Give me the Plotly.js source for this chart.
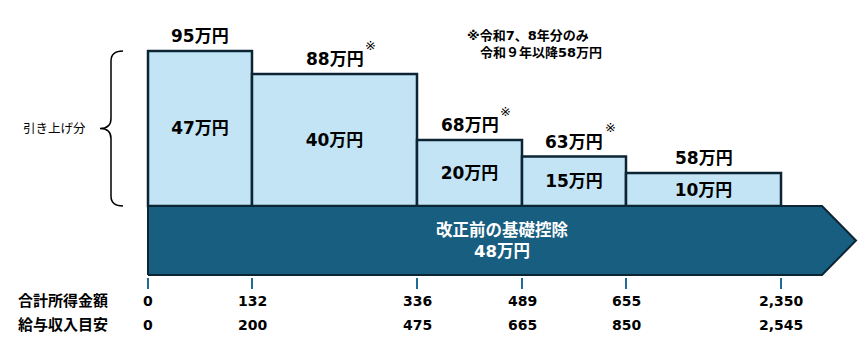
<!DOCTYPE html>
<html>
<head>
<meta charset="utf-8">
<script src="https://cdn.plot.ly/plotly-3.0.1.min.js"></script>
<style>html,body{margin:0;padding:0;background:#fff;}#chart{width:862px;height:356px;}</style>
</head>
<body>
<div id="chart"></div>
<script>
// ---- data ----
const incomeTicks = ['0', '132', '336', '489', '655', '2,350'];
const salaryTicks = ['0', '200', '475', '665', '850', '2,545'];
const increase = [47, 40, 20, 15, 10];
const baseDeduction = 48;
const noteFlags = [false, true, true, true, false];
const rowLabels = ['合計所得金額', '給与収入目安'];
const braceLabel = '引き上げ分';
const baseLabel = '改正前の基礎控除';
const noteLines = ['※令和7、8年分のみ', '　令和９年以降58万円'];
const unit = '万円';

// ---- layout constants ----
const BAND_PX = [104, 165, 105, 104, 155];
const ARROW_EXTRA = 41, ARROW_HEAD = 34;
const W = 862, H = 356, LEFT = 148;
const PLOT_BOTTOM = 277;          // pixel of plot-area bottom
const BASE_TOP = 206, BASE_BOT = 275;
const BAR_PX_PER_UNIT = 3.3;
const FONT = '"DejaVu Sans", "Noto Sans CJK JP", sans-serif';
const LIGHT = '#c2e4f4', DARK = '#0c2535', NAVY = '#185e80', TICK = '#1f6a96';

const edges = [0];
BAND_PX.forEach(w => edges.push(edges[edges.length - 1] + w));
const centers = BAND_PX.map((w, i) => edges[i] + w / 2);
const headStart = edges[edges.length - 1] + ARROW_EXTRA;
const arrowTip = headStart + ARROW_HEAD;
const totals = increase.map(v => v + baseDeduction);

// y axis (bars): 0 at BASE_TOP pixel
const yDomBotPx = BASE_TOP + 2;
const yDom = [(PLOT_BOTTOM - yDomBotPx) / PLOT_BOTTOM, 1];
const yRange = [-2 / BAR_PX_PER_UNIT, BASE_TOP / BAR_PX_PER_UNIT];
// y2 axis (base arrow)
const basePx = (BASE_BOT - BASE_TOP) / baseDeduction;
const y2Dom = [0, (PLOT_BOTTOM - (BASE_TOP - 2)) / PLOT_BOTTOM];
const y2Range = [-(PLOT_BOTTOM - BASE_BOT) / basePx, baseDeduction + 2 / basePx];

const traces = [
  {
    type: 'scatter', mode: 'lines', xaxis: 'x', yaxis: 'y2',
    x: [0, headStart, arrowTip, headStart, 0, 0],
    y: [0, 0, baseDeduction / 2, baseDeduction, baseDeduction, 0],
    fill: 'toself', fillcolor: NAVY,
    line: {color: DARK, width: 2}, hoverinfo: 'skip'
  },
  {
    type: 'bar', xaxis: 'x', yaxis: 'y',
    x: centers, width: BAND_PX, y: increase,
    marker: {color: LIGHT, line: {color: DARK, width: 2.5}},
    text: increase.map(v => v + unit),
    textposition: 'inside', insidetextanchor: 'middle', constraintext: 'none',
    textfont: {family: FONT, size: 17, color: '#000', weight: 'bold'},
    hoverinfo: 'skip'
  }
];

const annotations = [];
totals.forEach((t, i) => {
  annotations.push({
    xref: 'x', yref: 'y', x: centers[i], y: increase[i], yshift: 15,
    text: t + unit, showarrow: false, yanchor: 'middle',
    font: {family: FONT, size: 17, color: '#000', weight: 'bold'}
  });
  if (noteFlags[i]) {
    annotations.push({
      xref: 'x', yref: 'y', x: centers[i], y: increase[i], xshift: 36, yshift: 29,
      text: '※', showarrow: false,
      font: {family: FONT, size: 13, color: '#000'}
    });
  }
});
// tick labels rows
[incomeTicks, salaryTicks].forEach((row, r) => {
  row.forEach((t, i) => {
    annotations.push({
      xref: 'x', yref: 'paper', x: edges[i], y: 0, yshift: -24 - 24 * r,
      text: t, showarrow: false, yanchor: 'middle', xanchor: 'center',
      font: {family: FONT, size: 14, color: '#000', weight: 'bold'}
    });
  });
  annotations.push({
    xref: 'x', yref: 'paper', x: -85, y: 0, yshift: -24 - 24 * r,
    text: rowLabels[r], showarrow: false, yanchor: 'middle', xanchor: 'center',
    font: {family: FONT, size: 15, color: '#000', weight: 'bold'}
  });
});
// base label
annotations.push({
  xref: 'x', yref: 'y2', x: arrowTip / 2, y: baseDeduction / 2,
  text: baseLabel + '<br>' + baseDeduction + unit, showarrow: false,
  font: {family: FONT, size: 16.5, color: '#fff', weight: 'bold'}
});
// brace label
annotations.push({
  xref: 'x', yref: 'y', x: -60, y: increase[0] / 2, xanchor: 'right',
  text: braceLabel, showarrow: false, yanchor: 'middle',
  font: {family: FONT, size: 12.5, color: '#000'}
});
// note
annotations.push({
  xref: 'x', yref: 'paper', x: 317, y: (PLOT_BOTTOM - 43.5) / PLOT_BOTTOM,
  xanchor: 'left', yanchor: 'middle', align: 'left',
  text: noteLines.join('<br>'), showarrow: false,
  font: {family: FONT, size: 13, color: '#000', weight: 'bold'}
});

// brace path
const bTop = increase[0], bMid = bTop / 2, bR = 10 / BAR_PX_PER_UNIT;
const armEnd = -25, spine = -37, bTip = -48;
const bracePath = `M ${armEnd},${bTop} Q ${spine},${bTop} ${spine},${bTop - bR} L ${spine},${bMid + bR} ` +
  `Q ${spine},${bMid} ${bTip},${bMid} Q ${spine},${bMid} ${spine},${bMid - bR} L ${spine},${bR} Q ${spine},0 ${armEnd},0`;

const layout = {
  width: W, height: H,
  margin: {l: 0, r: 0, t: 0, b: H - PLOT_BOTTOM, pad: 0},
  paper_bgcolor: '#fff', plot_bgcolor: 'rgba(0,0,0,0)',
  showlegend: false, hovermode: false, bargap: 0,
  xaxis: {
    range: [-LEFT, W - LEFT], anchor: 'y2', tickvals: edges, showticklabels: false,
    ticks: 'outside', ticklen: 11, tickwidth: 2, tickcolor: TICK,
    showgrid: false, zeroline: false, showline: false, fixedrange: true
  },
  yaxis: {domain: yDom, range: yRange, visible: false, fixedrange: true},
  yaxis2: {domain: y2Dom, range: y2Range, visible: false, fixedrange: true},
  shapes: [{type: 'path', xref: 'x', yref: 'y', path: bracePath, line: {color: '#000', width: 1.5}}],
  annotations: annotations
};

Plotly.newPlot('chart', traces, layout, {staticPlot: true, displayModeBar: false});
</script>
</body>
</html>
